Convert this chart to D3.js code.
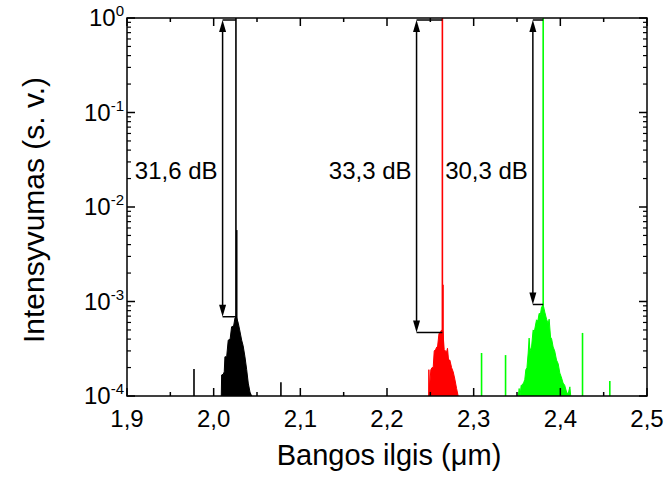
<!DOCTYPE html>
<html>
<head>
<meta charset="utf-8">
<script src="https://cdn.jsdelivr.net/npm/d3@7"></script>
<style>
  html, body { margin: 0; padding: 0; background: #fff; }
  svg { display: block; }
  text { font-family: Arial, "Liberation Sans", sans-serif; fill: #000; }
</style>
</head>
<body>
<svg id="chart" width="664" height="479"></svg>
<script>
// ---------- data ----------
const xTickValues = [1.9, 2.0, 2.1, 2.2, 2.3, 2.4, 2.5];
const xTickLabels = ["1,9", "2,0", "2,1", "2,2", "2,3", "2,4", "2,5"];
const yTickValues = [1, 1e-1, 1e-2, 1e-3, 1e-4];
const yTickExponents = ["0", "-1", "-2", "-3", "-4"];

// envelope of the noise floor around each lasing line: [wavelength µm, intensity]
const blackEnvelope = [
  [2.0088, 1e-4], [2.0092, 1.67e-4], [2.0110, 1.7e-4], [2.0122, 1.8e-4], [2.0130, 2.6e-4],
  [2.0150, 2.6e-4], [2.0168, 3.9e-4], [2.0190, 4.0e-4], [2.0207, 5.4e-4], [2.0230, 5.5e-4],
  [2.0246, 6.7e-4], [2.0262, 6.9e-4], [2.0284, 5.9e-4], [2.0300, 5.0e-4], [2.0323, 3.9e-4],
  [2.0340, 3.4e-4], [2.0361, 2.6e-4], [2.0381, 1.9e-4], [2.0399, 1.37e-4], [2.0419, 1.1e-4],
  [2.0438, 1e-4]
];
const blackSpikes = [[2.0257, 1.0], [2.0266, 5.7e-3], [1.9773, 1.93e-4], [2.0776, 1.4e-4]];

const redEnvelope = [
  [2.2480, 1e-4], [2.2483, 1.9e-4], [2.2490, 1.2e-4], [2.2506, 1.9e-4], [2.2520, 2.0e-4],
  [2.2533, 2.0e-4], [2.2545, 3.0e-4], [2.2560, 3.1e-4], [2.2575, 3.3e-4], [2.2583, 3.3e-4],
  [2.2600, 4.6e-4], [2.2615, 4.7e-4], [2.2630, 5.0e-4], [2.2645, 4.8e-4], [2.2660, 3.1e-4],
  [2.2675, 3.0e-4], [2.2687, 2.9e-4], [2.2698, 3.2e-4], [2.2710, 2.4e-4], [2.2725, 2.4e-4],
  [2.2745, 2.0e-4], [2.2764, 1.8e-4], [2.2783, 1.5e-4], [2.2803, 1.2e-4], [2.2821, 1e-4]
];
const redSpikes = [[2.2639, 1.0], [2.2646, 1.5e-3]];

const greenEnvelope = [
  [2.3515, 1e-4], [2.3525, 1.2e-4], [2.3535, 1.0e-4], [2.3548, 1.3e-4], [2.3560, 1.3e-4],
  [2.3579, 1.4e-4], [2.3590, 1.5e-4], [2.3602, 1.9e-4], [2.3615, 2.0e-4], [2.3629, 2.85e-4],
  [2.3640, 4.1e-4], [2.3650, 3.0e-4], [2.3668, 3.3e-4], [2.3686, 5.0e-4], [2.3700, 4.8e-4],
  [2.3725, 6.4e-4], [2.3740, 6.2e-4], [2.3756, 7.5e-4], [2.3770, 7.3e-4], [2.3783, 8.7e-4],
  [2.3802, 9.2e-4], [2.3821, 7.7e-4], [2.3841, 6.5e-4], [2.3860, 5.8e-4], [2.3871, 6.5e-4],
  [2.3887, 4.2e-4], [2.3900, 4.0e-4], [2.3917, 3.3e-4], [2.3935, 3.0e-4], [2.3956, 2.4e-4],
  [2.3975, 2.2e-4], [2.3994, 1.75e-4], [2.4010, 1.6e-4], [2.4032, 1.37e-4], [2.4050, 1.3e-4],
  [2.4072, 1.1e-4], [2.4090, 1.05e-4], [2.4110, 1.25e-4], [2.4120, 1e-4]
];
const greenSpikes = [[2.3802, 1.0], [2.3091, 2.85e-4], [2.3368, 2.71e-4], [2.4256, 4.65e-4], [2.4571, 1.44e-4]];

// side-mode suppression annotations
const annotArrowX = [2.0103, 2.2341, 2.3683];
const annotPeakX = [2.0257, 2.2639, 2.3802];
const annotTop = [1.0, 1.0, 1.0];
const annotBottom = [6.9e-4, 4.7e-4, 9.3e-4];
const annotLabels = ["31,6 dB", "33,3 dB", "30,3 dB"];
const annotLabelLevel = 0.023;

const series = [
  { color: "#000000", envelope: blackEnvelope, spikes: blackSpikes },
  { color: "#ff0000", envelope: redEnvelope, spikes: redSpikes },
  { color: "#00ff00", envelope: greenEnvelope, spikes: greenSpikes }
];

// ---------- layout ----------
const svg = d3.select("#chart");
const W = 664, H = 479;
const m = { left: 127, right: 17, top: 18, bottom: 83 };
const x = d3.scaleLinear().domain([1.9, 2.5]).range([m.left, W - m.right]);
const y = d3.scaleLog().domain([1e-4, 1]).range([H - m.bottom, m.top]);

svg.append("rect").attr("width", W).attr("height", H).attr("fill", "#fff");

const plot = svg.append("g");

// series
const area = d3.area().x(d => x(d[0])).y0(y(1e-4)).y1(d => y(d[1]));
const line = d3.line().x(d => x(d[0])).y(d => y(d[1]));
series.forEach(s => {
  plot.append("path").datum(s.envelope).attr("d", area).attr("fill", s.color);
  plot.append("path").datum(s.envelope).attr("d", line).attr("fill", "none")
    .attr("stroke", s.color).attr("stroke-width", 1);
  plot.selectAll(null).data(s.spikes).enter().append("line")
    .attr("x1", d => x(d[0])).attr("x2", d => x(d[0]))
    .attr("y1", y(1e-4)).attr("y2", d => y(d[1]))
    .attr("stroke", s.color).attr("stroke-width", 1.6);
});

// annotations
const ann = svg.append("g");
annotLabels.forEach((lab, i) => {
  const ax = x(annotArrowX[i]), px = x(annotPeakX[i]);
  const yt = y(annotTop[i]) + 2, yb = y(annotBottom[i]);
  const head = 12, hw = 3.5;
  ann.append("line").attr("x1", ax).attr("x2", ax).attr("y1", yt + head - 1).attr("y2", yb - head + 1)
    .attr("stroke", "#000").attr("stroke-width", 1.5);
  ann.append("path").attr("d", `M${ax},${yt} L${ax - hw},${yt + head} L${ax + hw},${yt + head} Z`).attr("fill", "#000");
  ann.append("path").attr("d", `M${ax},${yb} L${ax - hw},${yb - head} L${ax + hw},${yb - head} Z`).attr("fill", "#000");
  ann.append("line").attr("x1", ax).attr("x2", px).attr("y1", yt).attr("y2", yt)
    .attr("stroke", "#000").attr("stroke-width", 1.5);
  ann.append("line").attr("x1", ax).attr("x2", px).attr("y1", yb).attr("y2", yb)
    .attr("stroke", "#000").attr("stroke-width", 1.5);
  ann.append("text").attr("x", ax - 5).attr("y", y(annotLabelLevel))
    .attr("text-anchor", "end").attr("dominant-baseline", "middle")
    .style("font-size", "24px").text(lab);
});

// axes frame & ticks (inward, all four sides)
const x0 = m.left, x1 = W - m.right, y0 = H - m.bottom, y1 = m.top;
const axes = svg.append("g").attr("stroke", "#000").attr("stroke-width", 1.5);
axes.append("rect").attr("x", x0).attr("y", y1).attr("width", x1 - x0).attr("height", y0 - y1).attr("fill", "none");

const xMinor = d3.range(1.95, 2.5, 0.1);
const majL = 8, minL = 4;
xTickValues.forEach(v => {
  axes.append("line").attr("x1", x(v)).attr("x2", x(v)).attr("y1", y0).attr("y2", y0 - majL);
  axes.append("line").attr("x1", x(v)).attr("x2", x(v)).attr("y1", y1).attr("y2", y1 + majL);
});
xMinor.forEach(v => {
  axes.append("line").attr("x1", x(v)).attr("x2", x(v)).attr("y1", y0).attr("y2", y0 - minL);
  axes.append("line").attr("x1", x(v)).attr("x2", x(v)).attr("y1", y1).attr("y2", y1 + minL);
});
yTickValues.forEach(v => {
  axes.append("line").attr("x1", x0).attr("x2", x0 + majL).attr("y1", y(v)).attr("y2", y(v));
  axes.append("line").attr("x1", x1).attr("x2", x1 - majL).attr("y1", y(v)).attr("y2", y(v));
});
const yMinor = [];
[1e-4, 1e-3, 1e-2, 1e-1].forEach(d => { for (let k = 2; k <= 9; k++) yMinor.push(d * k); });
yMinor.forEach(v => {
  axes.append("line").attr("x1", x0).attr("x2", x0 + minL).attr("y1", y(v)).attr("y2", y(v)).attr("stroke-width", 1.2);
  axes.append("line").attr("x1", x1).attr("x2", x1 - minL).attr("y1", y(v)).attr("y2", y(v)).attr("stroke-width", 1.2);
});

// tick labels
svg.selectAll(null).data(xTickValues).enter().append("text")
  .attr("x", d => x(d)).attr("y", y0 + 31)
  .attr("text-anchor", "middle").style("font-size", "24px")
  .text((d, i) => xTickLabels[i]);

yTickValues.forEach((v, i) => {
  const t = svg.append("text").attr("x", x0 - 3).attr("y", y(v) + 8)
    .attr("text-anchor", "end").style("font-size", "24px");
  t.append("tspan").text("10");
  t.append("tspan").attr("dy", -10).style("font-size", "15px").text(yTickExponents[i]);
});

// axis titles
svg.append("text").attr("x", (x0 + x1) / 2 + 2).attr("y", 465)
  .attr("text-anchor", "middle").style("font-size", "29px")
  .text("Bangos ilgis (\u03bcm)");
svg.append("text").attr("transform", `translate(44, ${(y0 + y1) / 2 + 3}) rotate(-90)`)
  .attr("text-anchor", "middle").style("font-size", "30px")
  .text("Intensyvumas (s. v.)");
</script>
</body>
</html>
